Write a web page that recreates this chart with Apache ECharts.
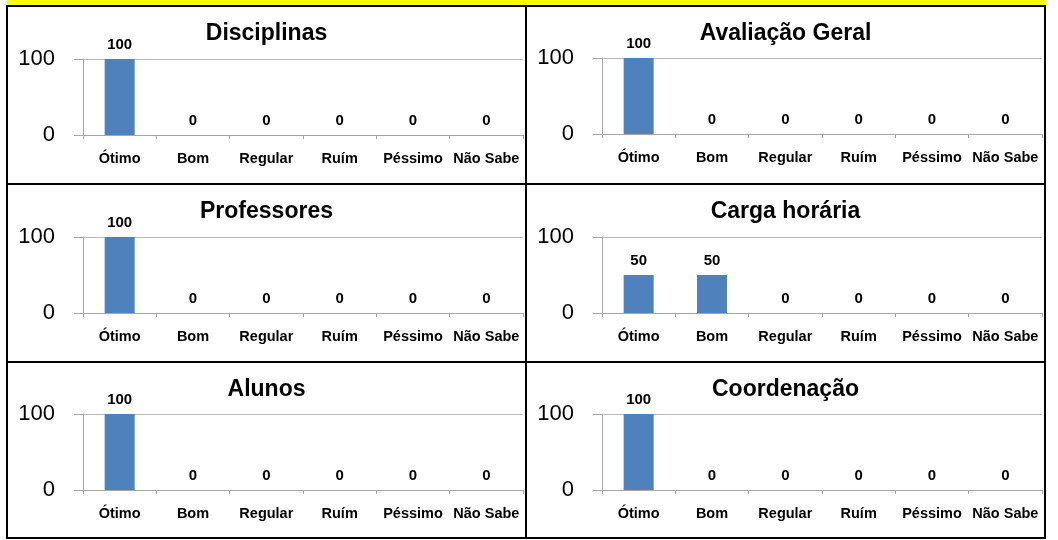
<!DOCTYPE html>
<html>
<head>
<meta charset="utf-8">
<script src="https://cdn.jsdelivr.net/npm/echarts@6/dist/echarts.min.js"></script>
<style>
  html, body { margin: 0; padding: 0; background: #ffffff; }
  #chart { width: 1058px; height: 540px; }
</style>
</head>
<body>
<div id="chart"></div>
<script>
// Rating categories shared by every panel
const categories = ['Ótimo', 'Bom', 'Regular', 'Ruím', 'Péssimo', 'Não Sabe'];

// Panel titles, left-to-right, top-to-bottom
const panelTitles = ['Disciplinas', 'Avaliação Geral', 'Professores', 'Carga horária', 'Alunos', 'Coordenação'];

// Percentages per panel
const disciplinas    = [100, 0, 0, 0, 0, 0];
const avaliacaoGeral = [100, 0, 0, 0, 0, 0];
const professores    = [100, 0, 0, 0, 0, 0];
const cargaHoraria   = [50, 50, 0, 0, 0, 0];
const alunos         = [100, 0, 0, 0, 0, 0];
const coordenacao    = [100, 0, 0, 0, 0, 0];

// Value axis range / ticks
const yMin = 0;
const yMax = 100;
const yInterval = 100;

const panelData = [disciplinas, avaliacaoGeral, professores, cargaHoraria, alunos, coordenacao];

// Layout of the 2 x 3 frame
const colX = [7, 526, 1045];
const rowY = [6, 184, 362, 538];
const gridLeft = [83, 602];
const gridTop = [[59, 58], [237, 237], [414, 414]];
const gridWidth = 440;
const gridHeight = 76;

const FONT = "'Liberation Sans', Arial, sans-serif";
const BAR_COLOR = '#4F81BD';
const AXIS_GRAY = '#a6a6a6';

const grids = [], xAxes = [], yAxes = [], series = [], titles = [];

panelData.forEach(function (values, i) {
  const col = i % 2;
  const row = Math.floor(i / 2);
  grids.push({
    left: gridLeft[col],
    top: gridTop[row][col],
    width: gridWidth,
    height: gridHeight,
    containLabel: false
  });
  xAxes.push({
    type: 'category',
    gridIndex: i,
    data: categories,
    boundaryGap: true,
    axisLine: { show: true, lineStyle: { color: AXIS_GRAY, width: 1 } },
    axisTick: { show: true, length: 4, alignWithLabel: false, lineStyle: { color: AXIS_GRAY } },
    axisLabel: {
      interval: 0,
      margin: 16,
      color: '#000',
      fontFamily: FONT,
      fontWeight: 'bold',
      fontSize: 14.5
    },
    splitLine: { show: false }
  });
  yAxes.push({
    type: 'value',
    gridIndex: i,
    min: yMin,
    max: yMax,
    interval: yInterval,
    axisLine: { show: true, lineStyle: { color: AXIS_GRAY, width: 1 } },
    axisTick: { show: true, length: 9, lineStyle: { color: AXIS_GRAY } },
    axisLabel: {
      margin: 28,
      color: '#000',
      fontFamily: FONT,
      fontSize: 22
    },
    splitLine: { show: true, lineStyle: { color: '#b8b8b8', width: 1 } }
  });
  series.push({
    type: 'bar',
    xAxisIndex: i,
    yAxisIndex: i,
    data: values,
    barWidth: 30,
    itemStyle: { color: BAR_COLOR },
    label: {
      show: true,
      position: 'top',
      distance: 7,
      color: '#000',
      fontFamily: FONT,
      fontWeight: 'bold',
      fontSize: 15
    },
    animation: false
  });
  titles.push({
    text: panelTitles[i],
    left: (colX[col] + colX[col + 1]) / 2,
    top: rowY[row] + 16,
    textAlign: 'center',
    padding: 0,
    textStyle: {
      fontFamily: FONT,
      fontWeight: 'bold',
      fontSize: 23,
      color: '#000'
    }
  });
});

// Frame: yellow strip on top plus black cell borders
const frame = [
  { type: 'rect', shape: { x: colX[0], y: 0, width: colX[2] - colX[0], height: rowY[0] }, style: { fill: '#ffff00' }, z: 100 }
];
rowY.forEach(function (y) {
  frame.push({ type: 'line', shape: { x1: colX[0] - 1, y1: y, x2: colX[2] + 1, y2: y }, style: { stroke: '#000', lineWidth: 2 }, z: 100 });
});
colX.forEach(function (x) {
  frame.push({ type: 'line', shape: { x1: x, y1: rowY[0], x2: x, y2: rowY[3] }, style: { stroke: '#000', lineWidth: 2 }, z: 100 });
});

const chart = echarts.init(document.getElementById('chart'), null, { renderer: 'canvas' });
chart.setOption({
  animation: false,
  backgroundColor: '#ffffff',
  title: titles,
  grid: grids,
  xAxis: xAxes,
  yAxis: yAxes,
  series: series,
  graphic: { elements: frame }
});
</script>
</body>
</html>
